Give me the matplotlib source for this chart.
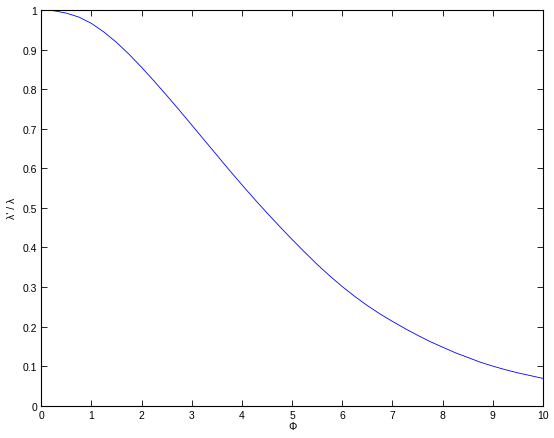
import matplotlib
matplotlib.use('Agg')
from matplotlib import pyplot as plt

plt.rcParams['font.family'] = ['Liberation Sans', 'DejaVu Sans']

# values, every 0.25
phi = [0, 0.25, 0.5, 0.75, 1, 1.25, 1.5, 1.75, 2, 2.25, 2.5, 2.75, 3,
       3.25, 3.5, 3.75, 4, 4.25, 4.5, 4.75, 5, 5.25, 5.5, 5.75, 6,
       6.25, 6.5, 6.75, 7, 7.25, 7.5, 7.75, 8, 8.25, 8.5, 8.75, 9,
       9.25, 9.5, 9.75, 10]
ratio = [1.0, 0.998, 0.992, 0.982, 0.966, 0.944, 0.918, 0.888, 0.855, 0.82, 0.784, 0.747, 0.709,
         0.671, 0.633, 0.595, 0.558, 0.522, 0.487, 0.453, 0.42, 0.388, 0.357, 0.328, 0.301,
         0.276, 0.253, 0.232, 0.213, 0.195, 0.178, 0.162, 0.148, 0.134, 0.122, 0.110, 0.100,
         0.091, 0.083, 0.076, 0.069]

xticks = list(range(0, 11))
yticks = [0, 0.1, 0.2, 0.3, 0.4, 0.5, 0.6, 0.7, 0.8, 0.9, 1]
yticklabels = ['0', '0.1', '0.2', '0.3', '0.4', '0.5', '0.6', '0.7', '0.8', '0.9', '1']

fig = plt.figure(figsize=(5.54, 4.39), dpi=100)
ax = fig.add_axes([0.0746, 0.0736, 0.9054, 0.9014])
ax.plot(phi, ratio, color='#0000ff', linewidth=0.6)

ax.set_xlim(0, 10)
ax.set_ylim(0, 1)
ax.set_xticks(xticks)
ax.set_xticklabels([str(t) for t in xticks])
ax.set_yticks(yticks)
ax.set_yticklabels(yticklabels)
ax.tick_params(direction='in', length=4, width=0.6, labelsize=7.5,
               top=True, right=True, pad=3)
for s in ax.spines.values():
    s.set_linewidth(0.8)

ax.set_xlabel('Φ', fontsize=7.5, labelpad=1)
ax.set_ylabel("λ' / λ", fontsize=7.5, labelpad=4)

fig.savefig('out.png', dpi=100)
